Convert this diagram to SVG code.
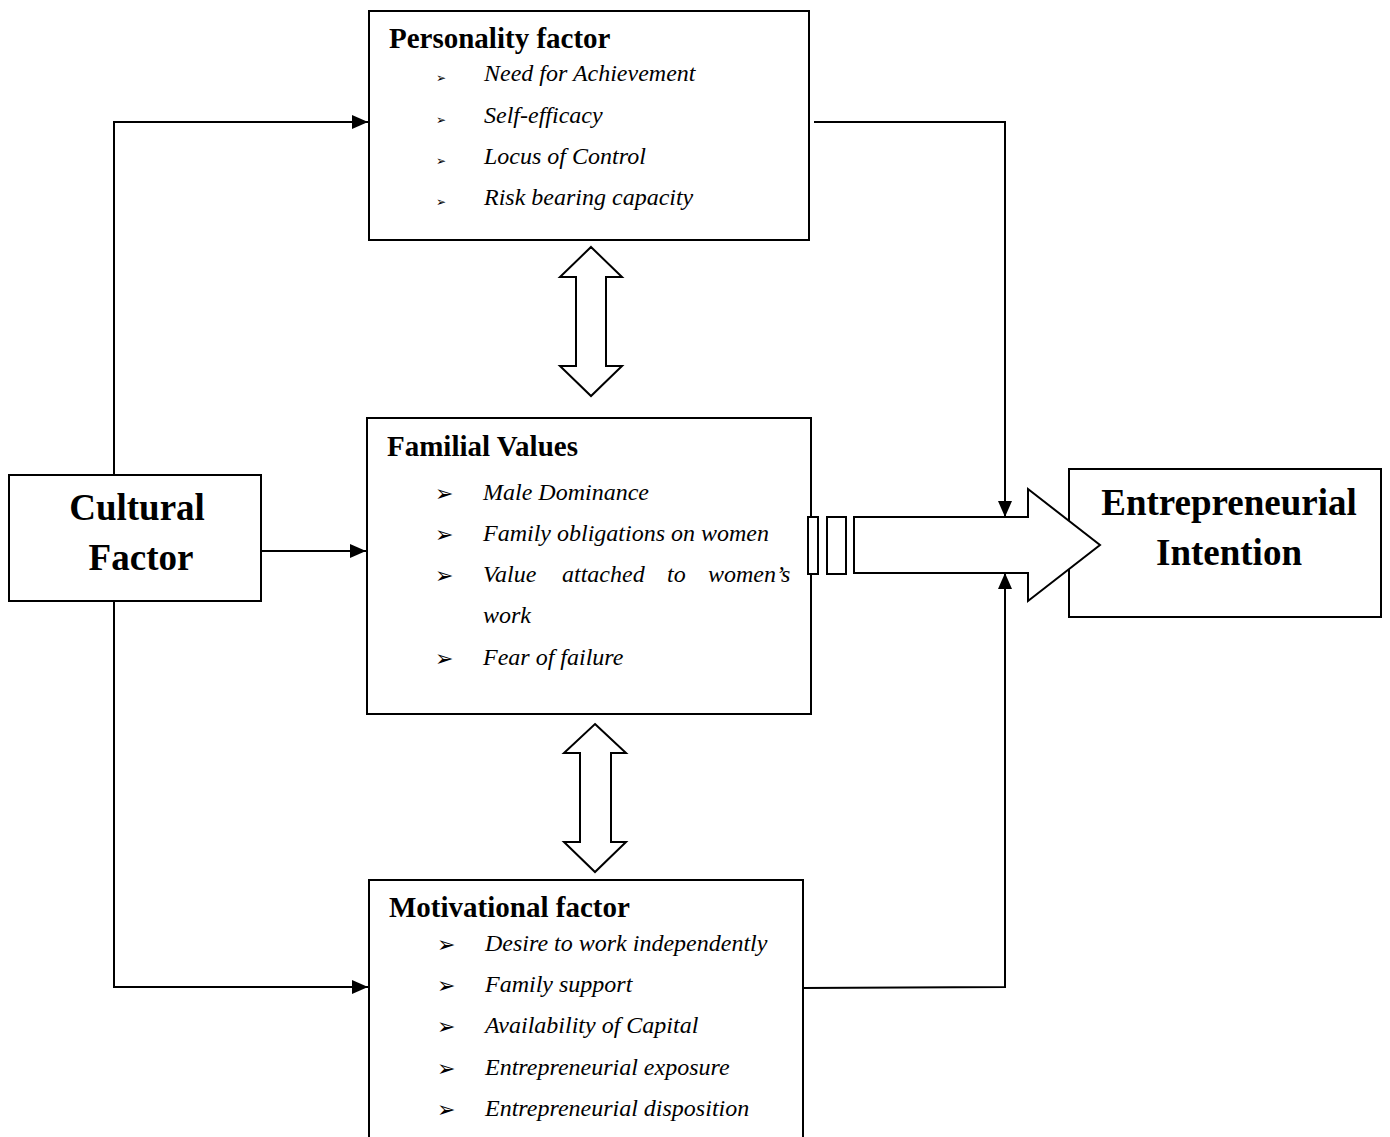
<svg xmlns="http://www.w3.org/2000/svg" width="1390" height="1137" viewBox="0 0 1390 1137">
  <style>
    .box { fill: #fff; stroke: #000; stroke-width: 2; }
    .shape { fill: #fff; stroke: #000; stroke-width: 2; stroke-linejoin: miter; }
    .line { fill: none; stroke: #000; stroke-width: 2; }
    .title { font-family: "Liberation Serif", "Times New Roman", serif; font-weight: bold; font-size: 29px; fill: #000; }
    .big { font-family: "Liberation Serif", "Times New Roman", serif; font-weight: bold; font-size: 37px; fill: #000; text-anchor: middle; }
    .item { font-family: "Liberation Serif", "Times New Roman", serif; font-style: italic; font-size: 24px; fill: #000; }
    .bullet { font-family: "DejaVu Sans", sans-serif; font-size: 22px; fill: #000; }
    .bullet-sm { font-family: "DejaVu Sans", sans-serif; font-size: 12px; fill: #000; }
  </style>
  <defs>
    <marker id="head" markerUnits="userSpaceOnUse" markerWidth="16" markerHeight="14" refX="16" refY="7" orient="auto">
      <path d="M0,0 L16,7 L0,14 z" fill="#000"/>
    </marker>
  </defs>

  <rect width="1390" height="1137" fill="#fff"/>

  <!-- connectors -->
  <g id="connectors">
    <polyline class="line" points="114,475 114,122 368,122" marker-end="url(#head)"/>
    <polyline class="line" points="114,601 114,987 368,987" marker-end="url(#head)"/>
    <line class="line" x1="261" y1="551" x2="366" y2="551" marker-end="url(#head)"/>
    <polyline class="line" points="814,122 1005,122 1005,517" marker-end="url(#head)"/>
    <polyline class="line" points="803,988 1005,987 1005,573" marker-end="url(#head)"/>
    <!-- two-way block arrows between the factor boxes -->
    <polygon class="shape" points="591,247 622,277 606,277 606,366 622,366 591,396 560,366 576,366 576,277 560,277"/>
    <polygon class="shape" points="595,724 626,753 611,753 611,842 626,842 595,872 564,842 580,842 580,753 564,753"/>
  </g>

  <g id="cultural">
    <rect class="box" x="9" y="475" width="252" height="126"/>
    <text class="big" x="137" y="520">Cultural</text>
    <text class="big" x="141" y="570">Factor</text>
  </g>

  <g id="personality">
    <rect class="box" x="369" y="11" width="440" height="229"/>
    <text class="title" x="389" y="48">Personality factor</text>
    <text class="bullet-sm" x="436" y="82">➢</text>
    <text class="item" x="484" y="81">Need for Achievement</text>
    <text class="bullet-sm" x="436" y="124">➢</text>
    <text class="item" x="484" y="123">Self-efficacy</text>
    <text class="bullet-sm" x="436" y="165">➢</text>
    <text class="item" x="484" y="164">Locus of Control</text>
    <text class="bullet-sm" x="436" y="206">➢</text>
    <text class="item" x="484" y="205">Risk bearing capacity</text>
  </g>

  <g id="familial">
    <rect class="box" x="367" y="418" width="444" height="296"/>
    <text class="title" x="387" y="456">Familial Values</text>
    <text class="bullet" x="435" y="501">➢</text>
    <text class="item" x="483" y="500">Male Dominance</text>
    <text class="bullet" x="435" y="542">➢</text>
    <text class="item" x="483" y="541">Family obligations on women</text>
    <text class="bullet" x="435" y="583">➢</text>
    <text class="item" y="582"><tspan x="483">Value</tspan><tspan x="562">attached</tspan><tspan x="667">to</tspan><tspan x="708">women’s</tspan></text>
    <text class="item" x="483" y="623">work</text>
    <text class="bullet" x="435" y="666">➢</text>
    <text class="item" x="483" y="665">Fear of failure</text>
  </g>

  <g id="motivational">
    <rect class="box" x="369" y="880" width="434" height="270"/>
    <text class="title" x="389" y="917">Motivational factor</text>
    <text class="bullet" x="437" y="952">➢</text>
    <text class="item" x="485" y="951">Desire to work independently</text>
    <text class="bullet" x="437" y="993">➢</text>
    <text class="item" x="485" y="992">Family support</text>
    <text class="bullet" x="437" y="1034">➢</text>
    <text class="item" x="485" y="1033">Availability of Capital</text>
    <text class="bullet" x="437" y="1076">➢</text>
    <text class="item" x="485" y="1075">Entrepreneurial exposure</text>
    <text class="bullet" x="437" y="1117">➢</text>
    <text class="item" x="485" y="1116">Entrepreneurial disposition</text>
  </g>

  <g id="intention">
    <rect class="box" x="1069" y="469" width="312" height="148"/>
    <text class="big" x="1229" y="515">Entrepreneurial</text>
    <text class="big" x="1229" y="565">Intention</text>
  </g>

  <!-- striped block arrow into the intention box -->
  <g id="main-arrow">
    <rect class="shape" x="808" y="517" width="10" height="57"/>
    <rect class="shape" x="827" y="517" width="19" height="57"/>
    <polygon class="shape" points="854,517 1028,517 1028,489 1100,545 1028,601 1028,573 854,573"/>
  </g>
</svg>
